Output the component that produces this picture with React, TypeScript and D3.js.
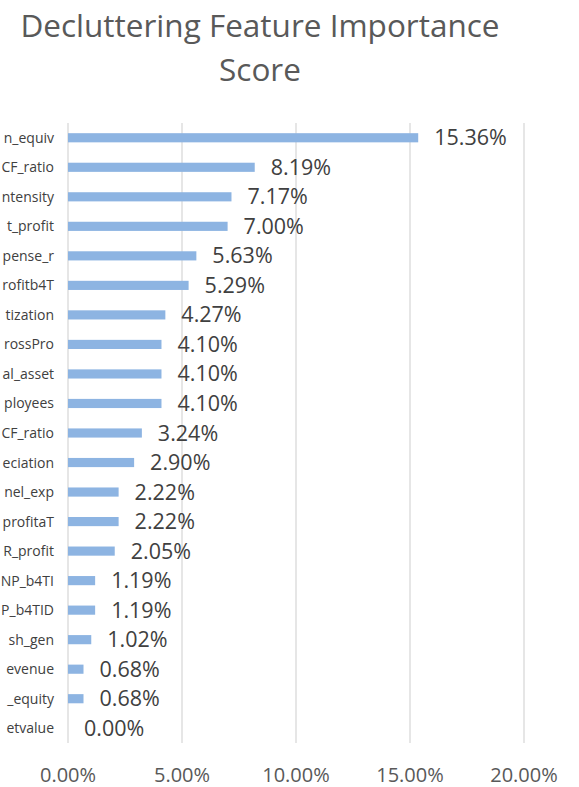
import React from "react";
import * as d3 from "d3";

const categories = [
  "n_equiv", "CF_ratio", "ntensity", "t_profit", "pense_r", "rofitb4T", "tization",
  "rossPro", "al_asset", "ployees", "CF_ratio", "eciation", "nel_exp", "profitaT",
  "R_profit", "NP_b4TI", "P_b4TID", "sh_gen", "evenue", "_equity", "etvalue",
];
const values = [
  15.36, 8.19, 7.17, 7.0, 5.63, 5.29, 4.27, 4.1, 4.1, 4.1, 3.24, 2.9, 2.22, 2.22,
  2.05, 1.19, 1.19, 1.02, 0.68, 0.68, 0.0,
];
const ticks = [0, 5, 10, 15, 20];
const titleLines = ["Decluttering Feature Importance", "Score"];

const W = 579;
const H = 787;
const FONT = "'Open Sans', 'Noto Sans', sans-serif";

export default function App() {
  const x = d3.scaleLinear().domain([0, 20]).range([68, 524]);
  const y = d3
    .scaleBand<number>()
    .domain(d3.range(categories.length))
    .range([123, 743])
    .paddingInner(0.69)
    .paddingOuter(0.345);
  const fmt = (v: number) => v.toFixed(2) + "%";

  return (
    <svg
      width={W}
      height={H}
      style={{ position: "absolute", left: 0, top: 0, background: "#fff" }}
      fontFamily={FONT}
    >
      <rect x={0} y={0} width={W} height={H} fill="#fff" />
      {titleLines.map((t, i) => (
        <text
          key={t}
          x={260}
          y={37 + i * 44}
          textAnchor="middle"
          fontSize={31.5}
          fill="#595959"
        >
          {t}
        </text>
      ))}
      {ticks.map((t) => (
        <g key={t}>
          <line
            x1={x(t)}
            x2={x(t)}
            y1={123}
            y2={743}
            stroke="#d9d9d9"
            strokeWidth={1.3}
          />
          <text
            x={x(t)}
            y={782}
            textAnchor="middle"
            fontSize={20}
            fill="#595959"
          >
            {fmt(t)}
          </text>
        </g>
      ))}
      {values.map((v, i) => {
        const cy = (y(i) as number) + y.bandwidth() / 2;
        return (
          <g key={i}>
            <rect
              x={x(0)}
              y={y(i)}
              width={x(v) - x(0)}
              height={y.bandwidth()}
              fill="#8DB4E2"
            />
            <text
              x={54}
              y={cy + 5}
              textAnchor="end"
              fontSize={14}
              fill="#404040"
            >
              {categories[i]}
            </text>
            <text
              x={x(v) + 16}
              y={cy + 7.5}
              fontSize={21.5}
              fill="#404040"
            >
              {fmt(v)}
            </text>
          </g>
        );
      })}
    </svg>
  );
}
